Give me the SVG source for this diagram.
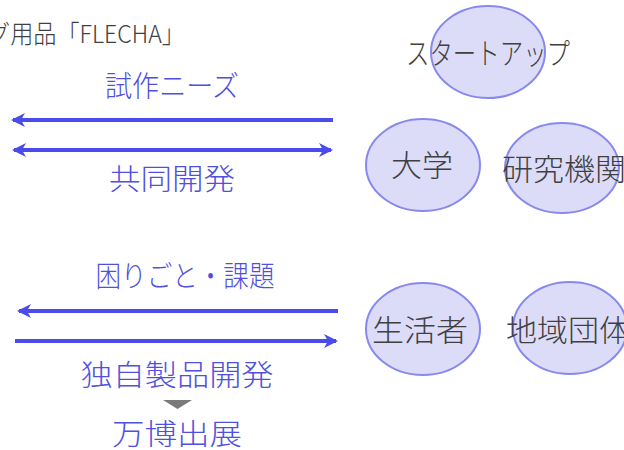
<svg xmlns="http://www.w3.org/2000/svg" width="624" height="450" viewBox="0 0 624 450">
<defs>
<marker id="ah" viewBox="0 0 14 14" refX="12" refY="7" markerWidth="14" markerHeight="14" markerUnits="userSpaceOnUse" orient="auto-start-reverse">
<path d="M0,0 L14,7 L0,14 L4,7 Z" fill="#4b4bea"/>
</marker>
</defs>
<style>
.t{font-family:"Noto Sans CJK JP","Noto Sans",sans-serif;font-weight:300;}
.lbl{font-size:29px;fill:#5050e0;text-anchor:middle;}
.nd{font-size:30px;fill:#404040;text-anchor:middle;}
.ell{fill:#dcdcf8;stroke:#8888ee;stroke-width:2;}
.ln{stroke:#4b4bea;stroke-width:4;fill:none;}
</style>
<rect width="624" height="450" fill="#ffffff"/>
<text class="t" x="-13" y="43" font-size="25" fill="#404040" textLength="198" lengthAdjust="spacingAndGlyphs">グ用品「FLECHA」</text>
<g id="connectors">
<line class="ln" x1="333" y1="120" x2="13" y2="120" marker-end="url(#ah)"/>
<line class="ln" x1="14" y1="150" x2="331" y2="150" marker-start="url(#ah)" marker-end="url(#ah)"/>
<line class="ln" x1="338" y1="311" x2="19" y2="311" marker-end="url(#ah)"/>
<line class="ln" x1="15" y1="341" x2="336" y2="341" marker-end="url(#ah)"/>
<polygon points="163,400 192,400 177.5,409" fill="#7a7a7a"/>
</g>
<g id="labels">
<text class="t lbl" x="172" y="97" textLength="134" lengthAdjust="spacingAndGlyphs">試作ニーズ</text>
<text class="t lbl" x="172" y="190" textLength="126" lengthAdjust="spacingAndGlyphs">共同開発</text>
<text class="t lbl" x="185" y="287" textLength="179" lengthAdjust="spacingAndGlyphs">困りごと・課題</text>
<text class="t lbl" x="177" y="386" textLength="193" lengthAdjust="spacingAndGlyphs">独自製品開発</text>
<text class="t lbl" x="177" y="445" textLength="130" lengthAdjust="spacingAndGlyphs">万博出展</text>
</g>
<g id="startup"><ellipse class="ell" cx="488" cy="52" rx="57" ry="46"/><text class="t nd" x="488" y="64" textLength="164" lengthAdjust="spacingAndGlyphs">スタートアップ</text></g>
<g id="university"><ellipse class="ell" cx="423" cy="165" rx="57" ry="46"/><text class="t nd" x="422" y="176" textLength="62" lengthAdjust="spacingAndGlyphs">大学</text></g>
<g id="institute"><ellipse class="ell" cx="562" cy="168" rx="57" ry="45"/><text class="t nd" x="564" y="180" textLength="124" lengthAdjust="spacingAndGlyphs">研究機関</text></g>
<g id="citizen"><ellipse class="ell" cx="423" cy="329" rx="57" ry="46"/><text class="t nd" x="420" y="341" textLength="96" lengthAdjust="spacingAndGlyphs">生活者</text></g>
<g id="community"><ellipse class="ell" cx="570" cy="328" rx="57" ry="46"/><text class="t nd" x="568" y="341" textLength="124" lengthAdjust="spacingAndGlyphs">地域団体</text></g>
</svg>
